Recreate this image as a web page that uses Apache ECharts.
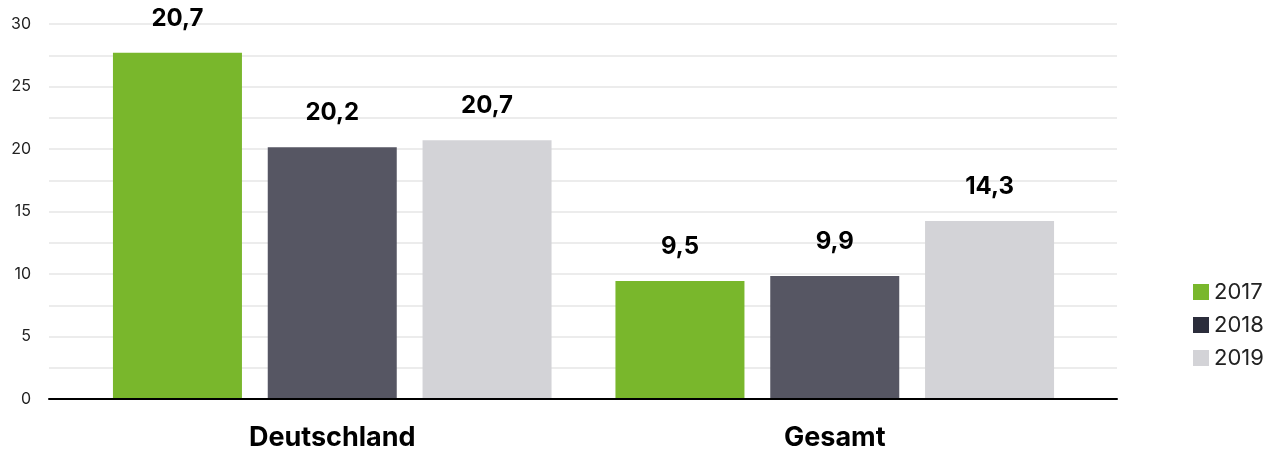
<!DOCTYPE html>
<html>
<head>
<meta charset="utf-8">
<script src="https://cdn.jsdelivr.net/npm/echarts@6/dist/echarts.min.js"></script>
<style>
  html, body { margin: 0; padding: 0; background: #fff; }
  #chart { width: 1288px; height: 454px; }
</style>
</head>
<body>
<div id="chart"></div>
<script>
// data
var categories = ['Deutschland', 'Gesamt'];
var years = ['2017', '2018', '2019'];
var values2017 = [27.7, 9.45];
var values2018 = [20.15, 9.85];
var values2019 = [20.7, 14.25];
var labels2017 = ['20,7', '9,5'];
var labels2018 = ['20,2', '9,9'];
var labels2019 = ['20,7', '14,3'];
var yTicks = ['0', '5', '10', '15', '20', '25', '30'];

var barColors = ['#79b72c', '#565663', '#d3d3d7'];
var legendColors = ['#79b72c', '#2b2d3b', '#d3d3d7'];
var font = 'Inter, "Noto Sans", sans-serif';

function makeBar(name, values, labels, color) {
  return {
    name: name,
    type: 'bar',
    xAxisIndex: 1,
    yAxisIndex: 1,
    data: values,
    barWidth: 129,
    barGap: '20%',
    itemStyle: { color: color },
    label: {
      show: true,
      position: 'top',
      distance: 22,
      fontFamily: font,
      fontSize: 24,
      fontWeight: 'bold',
      color: '#000',
      formatter: function (p) { return labels[p.dataIndex]; }
    }
  };
}

var option = {
  animation: false,
  textStyle: { fontFamily: font },
  grid: [
    { left: 49, right: 171, top: 24, bottom: 55 },   // gridlines + y axis
    { left: 81, right: 202, top: 24, bottom: 55 }    // bars
  ],
  legend: {
    orient: 'vertical',
    left: 1188,
    top: 276,
    itemWidth: 16,
    itemHeight: 16,
    itemGap: 11,
    icon: 'rect',
    textStyle: { fontFamily: font, fontSize: 22, color: '#222' },
    data: years.map(function (y, i) {
      return { name: y, itemStyle: { color: legendColors[i] } };
    })
  },
  xAxis: [
    {
      gridIndex: 0,
      type: 'category',
      data: categories,
      z: 5,
      axisLine: { lineStyle: { color: '#000', width: 2 } },
      axisTick: { show: false },
      axisLabel: { show: false },
      splitLine: { show: false }
    },
    {
      gridIndex: 1,
      type: 'category',
      data: categories,
      axisLine: { show: false },
      axisTick: { show: false },
      axisLabel: {
        margin: 25,
        fontFamily: font,
        fontSize: 27,
        fontWeight: 'bold',
        color: '#000'
      }
    }
  ],
  yAxis: [
    {
      gridIndex: 0,
      type: 'value',
      min: 0,
      max: 30,
      interval: 2.5,
      axisLine: { show: false },
      axisTick: { show: false },
      splitLine: { lineStyle: { color: '#e6e6e6', width: 1.5 } },
      axisLabel: {
        margin: 18,
        fontFamily: font,
        fontSize: 16,
        color: '#222',
        padding: [0, 0, 7, 0],
        formatter: function (v) {
          return v % 5 === 0 ? yTicks[v / 5] : '';
        }
      }
    },
    {
      gridIndex: 1,
      type: 'value',
      min: 0,
      max: 30,
      show: false
    }
  ],
  series: [
    makeBar(years[0], values2017, labels2017, barColors[0]),
    makeBar(years[1], values2018, labels2018, barColors[1]),
    makeBar(years[2], values2019, labels2019, barColors[2])
  ]
};

var myChart = echarts.init(document.getElementById('chart'));
myChart.setOption(option);
</script>
</body>
</html>
